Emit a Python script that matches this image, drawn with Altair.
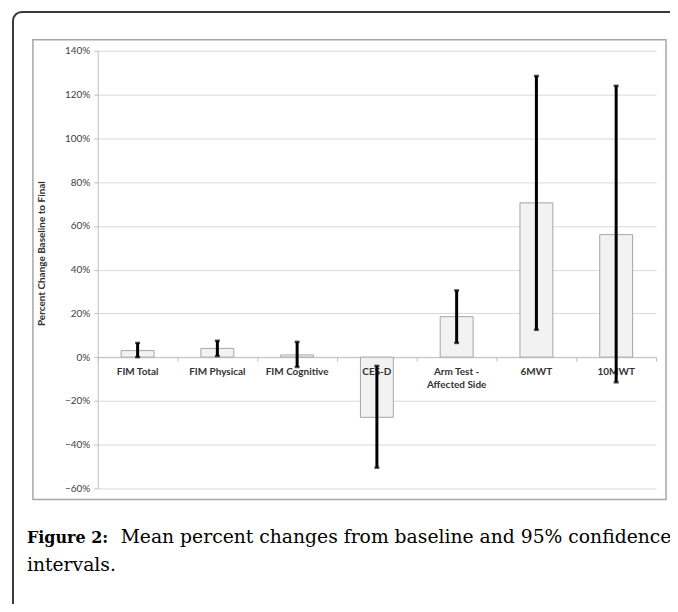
import altair as alt
import pandas as pd

categories = ["FIM Total", "FIM Physical", "FIM Cognitive", "CES-D",
              "Arm Test -|Affected Side", "6MWT", "10MWT"]
mean_change = [0.03, 0.04, 0.01, -0.275, 0.185, 0.705, 0.56]
ci_low = [0.0, 0.005, -0.045, -0.505, 0.065, 0.125, -0.115]
ci_high = [0.065, 0.075, 0.07, -0.04, 0.305, 1.285, 1.24]
y_ticks = [-0.6, -0.4, -0.2, 0.0, 0.2, 0.4, 0.6, 0.8, 1.0, 1.2, 1.4]

df = pd.DataFrame({"cat": categories, "mean": mean_change,
                   "low": ci_low, "high": ci_high})

W, H = 560, 439
Y0 = H * 1.4 / 2.0  # pixel of 0%

xenc = alt.X("cat:N", sort=categories,
             scale=alt.Scale(paddingInner=0, paddingOuter=0),
             axis=alt.Axis(labels=False, title=None, offset=-(H - Y0),
                           tickBand="extent", tickSize=4, grid=False,
                           domainColor="#bfbfbf", tickColor="#bfbfbf"))
yscale = alt.Scale(domain=[-0.6, 1.4], nice=False, zero=False)
yaxis = alt.Axis(values=y_ticks, format=".0%", labelFont="Lato", labelFontSize=10,
                 labelColor="#404040", tickSize=4, tickColor="#bfbfbf",
                 domainColor="#bfbfbf", gridColor="#d9d9d9", labelPadding=4,
                 title="Percent Change Baseline to Final", titleFont="Lato",
                 titleFontSize=10, titleFontWeight="bold", titleColor="#333333",
                 titleX=-51, titleY=203)

base = alt.Chart(df)

bars = base.mark_bar(size=33, fill="#f2f2f2", stroke="#a6a6a6", strokeWidth=1).encode(
    x=xenc, y=alt.Y("mean:Q", scale=yscale, axis=yaxis))

labels = base.mark_text(baseline="top", dy=10, lineBreak="|", lineHeight=13,
                        font="Lato", fontSize=10, fontWeight="bold",
                        color="#333333").encode(
    x=alt.X("cat:N", sort=categories), y=alt.datum(0), text="cat:N")

err = base.mark_rule(strokeWidth=3, color="black").encode(
    x=alt.X("cat:N", sort=categories), y="low:Q", y2="high:Q")
cap_lo = base.mark_tick(size=5, thickness=2.5, color="black").encode(
    x=alt.X("cat:N", sort=categories), y="low:Q")
cap_hi = base.mark_tick(size=5, thickness=2.5, color="black").encode(
    x=alt.X("cat:N", sort=categories), y="high:Q")

one = alt.Data(values=[{}])

inner_box = alt.Chart(one).mark_rect(fill="transparent", stroke="#a6a6a6",
                                     strokeWidth=1.5).encode(
    x=alt.value(33 - 98), x2=alt.value(668 - 98),
    y=alt.value(39 - 50), y2=alt.value(500 - 50))

outer_frame = alt.Chart(one).mark_rect(fill="transparent", stroke="#3a3a3a",
                                       strokeWidth=2, cornerRadius=9).encode(
    x=alt.value(13 - 98), x2=alt.value(760),
    y=alt.value(11 - 50), y2=alt.value(700))

cap_bold = alt.Chart(one).mark_text(align="left", baseline="alphabetic",
                                    font="DejaVu Serif", fontSize=16,
                                    fontWeight="bold", color="#000000").encode(
    x=alt.value(27 - 98), y=alt.value(544 - 50), text=alt.value("Figure 2:"))
cap_text = alt.Chart(one).mark_text(align="left", baseline="alphabetic",
                                    font="DejaVu Serif", fontSize=18.8,
                                    color="#000000").encode(
    x=alt.value(121 - 98), y=alt.value(544 - 50),
    text=alt.value("Mean percent changes from baseline and 95% confidence"))
cap_text2 = alt.Chart(one).mark_text(align="left", baseline="alphabetic",
                                     font="DejaVu Serif", fontSize=18.8,
                                     color="#000000").encode(
    x=alt.value(27 - 98), y=alt.value(572 - 50), text=alt.value("intervals."))

chart = alt.layer(outer_frame, inner_box, bars, labels, err, cap_lo, cap_hi,
                  cap_bold, cap_text, cap_text2).properties(
    width=W, height=H,
    autosize=alt.AutoSizeParams(type="none"),
    padding={"left": 90, "top": 42, "right": 14, "bottom": 115},
    background="white",
).configure_view(strokeWidth=0)

chart.save("out.html", embed_options={"renderer": "svg", "actions": False})
